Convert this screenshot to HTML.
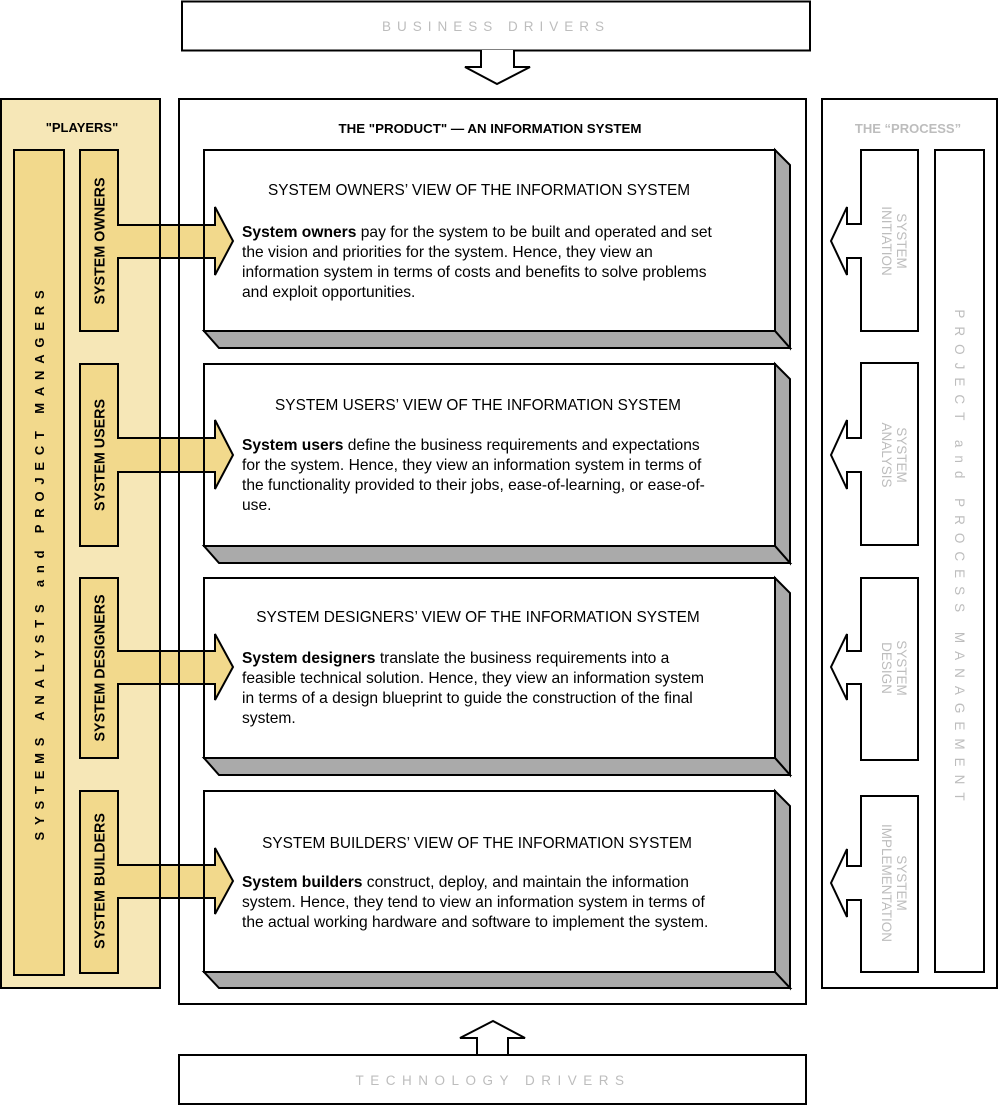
<!DOCTYPE html>
<html><head><meta charset="utf-8"><style>
html,body{margin:0;padding:0;background:#fff}
svg{display:block}
text{font-family:"Liberation Sans",sans-serif}
</style></head><body>
<svg width="998" height="1105" viewBox="0 0 998 1105" xmlns="http://www.w3.org/2000/svg">
<rect x="182" y="1.5" width="628" height="49" fill="#fff" stroke="#000" stroke-width="2"/>
<text x="496" y="31" font-size="13.5" fill="#bdbdbd" text-anchor="middle" letter-spacing="6">BUSINESS DRIVERS</text>
<path d="M481,50 V67 H465 L497,84 L530,67 H514 V50" fill="#fff" stroke="#000" stroke-width="2"/>

<rect x="1" y="99" width="159" height="889" fill="#f6e7b7" stroke="none"/>
<rect x="14" y="150" width="50" height="825" fill="#f2d98c" stroke="#000" stroke-width="2"/>
<text x="82" y="132" font-size="13" font-weight="bold" text-anchor="middle">"PLAYERS"</text>

<rect x="179" y="99" width="627" height="905" fill="#fff" stroke="none"/>
<text x="490" y="133" font-size="13" font-weight="bold" text-anchor="middle" textLength="303" lengthAdjust="spacingAndGlyphs">THE "PRODUCT" —  AN INFORMATION SYSTEM</text>

<g stroke="#000" stroke-width="2" stroke-linejoin="miter">
<rect x="204" y="150" width="571" height="181" fill="#fff"/>
<polygon points="775,150 790,165 790,348 775,331" fill="#aaa"/>
<polygon points="204,331 775,331 790,348 219,348" fill="#aaa"/>
<rect x="204" y="364" width="571" height="182" fill="#fff"/>
<polygon points="775,364 790,379 790,563 775,546" fill="#aaa"/>
<polygon points="204,546 775,546 790,563 219,563" fill="#aaa"/>
<rect x="204" y="578" width="571" height="180" fill="#fff"/>
<polygon points="775,578 790,593 790,775 775,758" fill="#aaa"/>
<polygon points="204,758 775,758 790,775 219,775" fill="#aaa"/>
<rect x="204" y="791" width="571" height="181" fill="#fff"/>
<polygon points="775,791 790,806 790,988 775,972" fill="#aaa"/>
<polygon points="204,972 775,972 790,988 219,988" fill="#aaa"/>
</g>

<g fill="#f2d98c" stroke="#000" stroke-width="2">
<path d="M80,150 H118 V225 H215 V207 L233,241 L215,275 V258 H118 V331 H80 Z"/>
<path d="M80,364 H118 V438 H215 V420 L233,455 L215,489 V472 H118 V546 H80 Z"/>
<path d="M80,578 H118 V651 H215 V634 L233,667 L215,700 V684 H118 V758 H80 Z"/>
<path d="M80,791 H118 V865 H215 V848 L233,881 L215,914 V898 H118 V973 H80 Z"/>
</g>

<g fill="none" stroke="#000" stroke-width="2">
<rect x="1" y="99" width="159" height="889"/>
<rect x="179" y="99" width="627" height="905"/>
<line x1="204" y1="150" x2="204" y2="331"/>
<line x1="204" y1="364" x2="204" y2="546"/>
<line x1="204" y1="578" x2="204" y2="758"/>
<line x1="204" y1="791" x2="204" y2="972"/>
</g>

<text transform="translate(44,562) rotate(-90)" font-size="13" font-weight="bold" text-anchor="middle" letter-spacing="6.8">SYSTEMS ANALYSTS and PROJECT MANAGERS</text>
<g font-size="14.3" font-weight="bold" text-anchor="middle">
<text transform="translate(104.5,241) rotate(-90)">SYSTEM OWNERS</text>
<text transform="translate(104.5,455) rotate(-90)">SYSTEM USERS</text>
<text transform="translate(104.5,668) rotate(-90)">SYSTEM DESIGNERS</text>
<text transform="translate(104.5,881) rotate(-90)">SYSTEM BUILDERS</text>
</g>

<g font-size="15.6" xml:space="preserve">
<text x="479" y="195" font-size="15.4" text-anchor="middle">SYSTEM OWNERS’ VIEW OF THE INFORMATION SYSTEM</text>
<text x="242" y="237"><tspan font-weight="bold">System owners</tspan>   pay for the system to be built and operated and set</text>
<text x="242" y="257">the vision and priorities for the system. Hence, they view an</text>
<text x="242" y="277">information system in terms of costs and benefits to solve problems</text>
<text x="242" y="297">and exploit opportunities.</text>

<text x="478" y="410" font-size="15.4" text-anchor="middle">SYSTEM USERS’ VIEW OF THE INFORMATION SYSTEM</text>
<text x="242" y="450"><tspan font-weight="bold">System users</tspan>   define the business requirements and expectations</text>
<text x="242" y="470">for the system. Hence, they view an information system in terms of</text>
<text x="242" y="490">the functionality provided to their jobs, ease-of-learning, or ease-of-</text>
<text x="242" y="510">use.</text>

<text x="478" y="622" font-size="15.4" text-anchor="middle">SYSTEM DESIGNERS’ VIEW OF THE INFORMATION SYSTEM</text>
<text x="242" y="663"><tspan font-weight="bold">System designers</tspan>   translate the business requirements into a</text>
<text x="242" y="683">feasible technical solution. Hence, they view an information system</text>
<text x="242" y="703">in terms of a design blueprint to guide the construction of the final</text>
<text x="242" y="723">system.</text>

<text x="477" y="848" font-size="15.4" text-anchor="middle">SYSTEM BUILDERS’ VIEW OF THE INFORMATION SYSTEM</text>
<text x="242" y="887"><tspan font-weight="bold">System builders</tspan>   construct, deploy, and maintain the information</text>
<text x="242" y="907">system. Hence, they tend to view an information system in terms of</text>
<text x="242" y="927">the actual working hardware and software to implement the system.</text>
</g>

<rect x="822" y="99" width="175" height="889" fill="#fff" stroke="#000" stroke-width="2"/>
<text x="908" y="133" font-size="13" font-weight="bold" fill="#bdbdbd" text-anchor="middle">THE “PROCESS”</text>
<rect x="935" y="150" width="49" height="822" fill="#fff" stroke="#000" stroke-width="2"/>
<text transform="translate(955,559) rotate(90)" font-size="13.5" fill="#bdbdbd" text-anchor="middle" letter-spacing="8">PROJECT and PROCESS MANAGEMENT</text>
<g fill="#fff" stroke="#000" stroke-width="2">
<path d="M918,150 H861 V224 H847 V207 L831,241 L847,275 V258 H861 V331 H918 Z"/>
<path d="M918,363 H861 V438 H847 V420 L831,455 L847,489 V472 H861 V545 H918 Z"/>
<path d="M918,578 H861 V651 H847 V634 L831,667 L847,700 V684 H861 V760 H918 Z"/>
<path d="M918,796 H861 V866 H847 V849 L831,883 L847,917 V900 H861 V972 H918 Z"/>
</g>
<g font-size="13.5" fill="#bdbdbd" text-anchor="middle">
<text transform="translate(897,241) rotate(90)"><tspan x="0" y="0">SYSTEM</tspan><tspan x="0" y="15">INITIATION</tspan></text>
<text transform="translate(897,455) rotate(90)"><tspan x="0" y="0">SYSTEM</tspan><tspan x="0" y="15">ANALYSIS</tspan></text>
<text transform="translate(897,668) rotate(90)"><tspan x="0" y="0">SYSTEM</tspan><tspan x="0" y="15">DESIGN</tspan></text>
<text transform="translate(897,883) rotate(90)"><tspan x="0" y="0">SYSTEM</tspan><tspan x="0" y="15">IMPLEMENTATION</tspan></text>
</g>

<path d="M477,1055 V1038 H460 L493,1021 L525,1038 H508 V1055" fill="#fff" stroke="#000" stroke-width="2"/>
<rect x="179" y="1055" width="627" height="49" fill="#fff" stroke="#000" stroke-width="2"/>
<text x="493" y="1085" font-size="13.5" fill="#bdbdbd" text-anchor="middle" letter-spacing="6.5">TECHNOLOGY DRIVERS</text>
</svg>
</body></html>
